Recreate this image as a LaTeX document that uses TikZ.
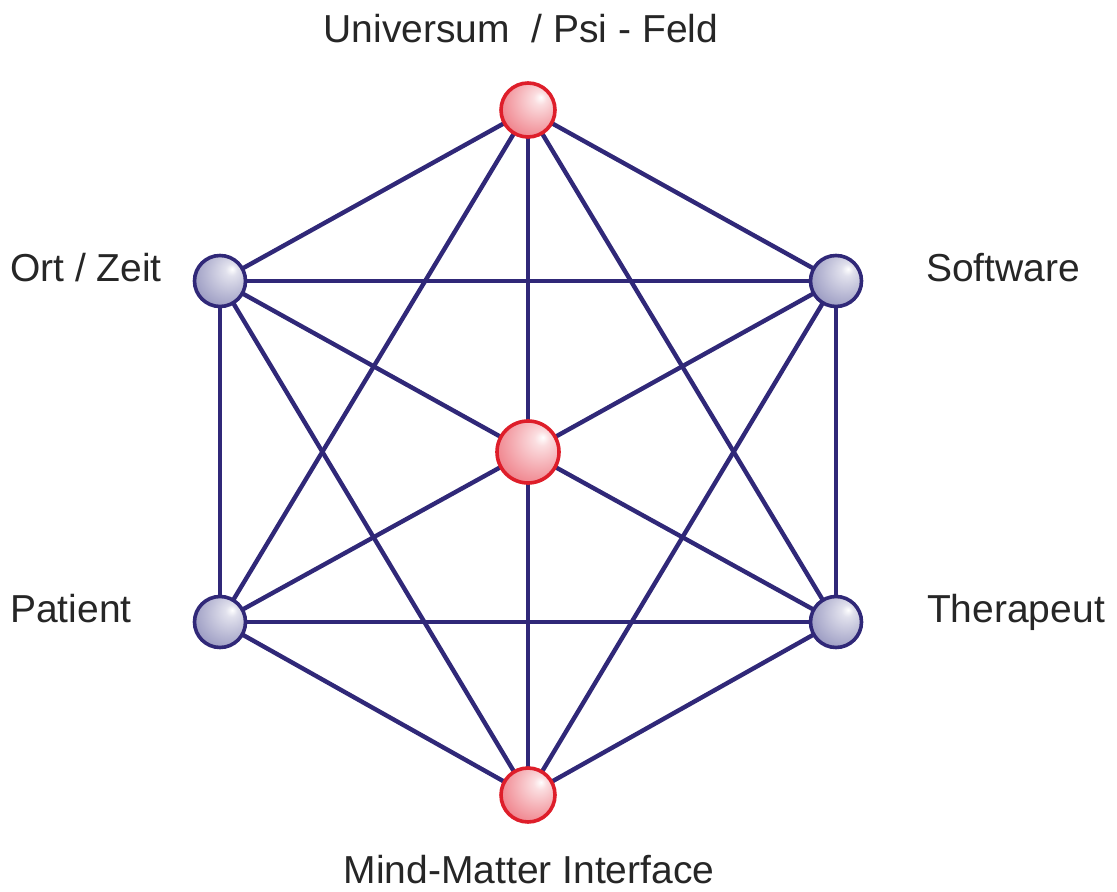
\documentclass[tikz,border=0pt]{standalone}
\usepackage{fontspec}
\setmainfont{Liberation Sans}
\usetikzlibrary{positioning, backgrounds}
\definecolor{MiLinea}{RGB}{48,40,120}
\definecolor{MiRojo}{RGB}{222,30,42}
\definecolor{MiRosa}{RGB}{234,86,98}
\definecolor{MiLila}{RGB}{102,102,162}
\definecolor{MiTexto}{RGB}{38,38,38}
\pgfdeclareradialshading{bolaroja}{\pgfpoint{12bp}{12bp}}{color(0bp)=(white); color(6bp)=(white!80!MiRosa); color(40bp)=(MiRosa!85!white); color(62bp)=(MiRosa); color(75bp)=(MiRosa)}
\pgfdeclareradialshading{bolalila}{\pgfpoint{12bp}{12bp}}{color(0bp)=(white); color(6bp)=(white!80!MiLila); color(40bp)=(MiLila!75!white); color(62bp)=(MiLila); color(75bp)=(MiLila)}

\begin{document}
\begin{tikzpicture}[
    x=0.5pt, y=-0.5pt,
    texto/.style={font=\fontsize{19.5}{22}\selectfont, text=MiTexto, anchor=base, inner sep=0pt},
    enlace/.style={draw=MiLinea, line width=2.2pt, shorten <=-1pt, shorten >=-1pt},
    esfera_roja/.style={circle, draw=MiRojo, line width=1.8pt, shading=bolaroja, inner sep=0pt},
    esfera_lila/.style={circle, draw=MiLinea, line width=1.8pt, shading=bolalila, inner sep=0pt, minimum size=25.5pt}
]
    \useasboundingbox (0,0) rectangle (1117,892);

    % 1. Esferas
    \node[esfera_roja, minimum size=27pt] (univ) at (528,110) {};
    \node[esfera_roja, minimum size=31pt] (centro) at (528,452) {};
    \node[esfera_roja, minimum size=27pt] (mind) at (528,795) {};
    \node[esfera_lila] (ort) at (220,281) {};
    \node[esfera_lila] (soft) at (836,281) {};
    \node[esfera_lila] (pat) at (220,622) {};
    \node[esfera_lila] (ther) at (836,622) {};

    % 2. Enlaces (hexagono, estrella y radios) detras de las esferas
    \begin{scope}[on background layer]
        \foreach \a/\b in {univ/ort, ort/pat, pat/mind, mind/ther, ther/soft, soft/univ,
                           univ/pat, pat/ther, ther/univ, ort/soft, soft/mind, mind/ort,
                           centro/univ, centro/ort, centro/pat, centro/mind, centro/ther, centro/soft}
            \draw[enlace] (\a) -- (\b);
    \end{scope}

    % 3. Etiquetas
    \node[texto] (t_univ) at (521,43) {Universum \ / Psi - Feld};
    \node[texto] (t_ort) at (86,282) {Ort / Zeit};
    \node[texto] (t_soft) at (1003,282) {Software};
    \node[texto] (t_pat) at (71,622) {Patient};
    \node[texto] (t_ther) at (1016,622) {Therapeut};
    \node[texto] (t_mind) at (529,883) {Mind-Matter Interface};

\end{tikzpicture}
\end{document}
